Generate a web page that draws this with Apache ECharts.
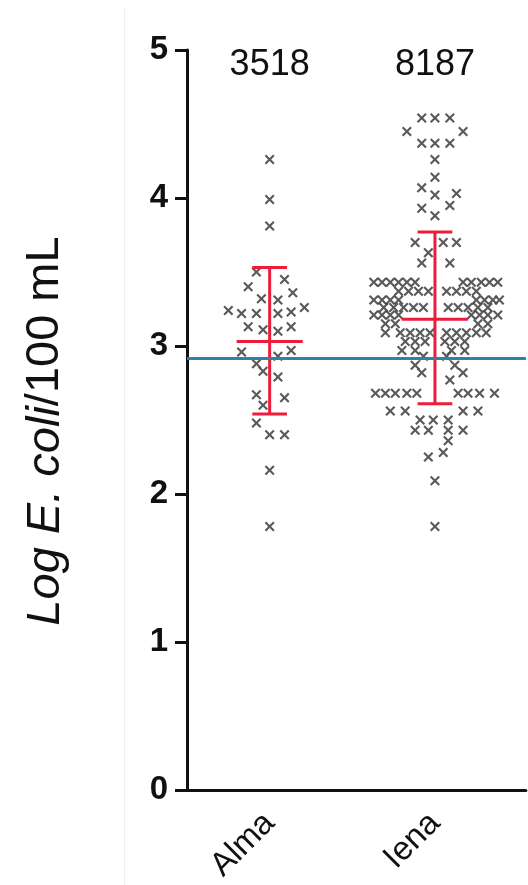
<!DOCTYPE html>
<html><head><meta charset="utf-8">
<script src="https://cdn.jsdelivr.net/npm/echarts@6/dist/echarts.min.js"></script>
<style>html,body{margin:0;padding:0;background:#fff}#c{width:528px;height:885px}</style>
</head><body><div id="c"></div>
<script>
// ---- data ----
const categories = ['Alma', 'Iena'];
const counts = [3518, 8187];
const yTicks = [0, 1, 2, 3, 4, 5];
const means = [3.03, 3.18];
const sdLow = [2.54, 2.61];
const sdHigh = [3.53, 3.77];
const referenceLevel = 2.92;

// rows of the swarm: [log value, [horizontal offsets in category units]]
const almaRows = [
  [4.26, [0]], [3.99, [0]], [3.81, [0]],
  [3.50, [-0.08]], [3.45, [0.09]], [3.40, [-0.13]], [3.36, [0.14]],
  [3.32, [-0.05]], [3.31, [0.05]], [3.26, [0.21]],
  [3.24, [-0.25]], [3.22, [-0.17, -0.08, 0.05]], [3.23, [0.13]],
  [3.13, [-0.13, 0.13]], [3.11, [-0.04]], [3.10, [0.05]],
  [2.96, [-0.17]], [2.93, [0.05]], [2.97, [0.13]],
  [2.88, [-0.08]], [2.83, [-0.04]], [2.79, [0.05]],
  [2.67, [-0.08]], [2.65, [0.09]], [2.60, [-0.04]],
  [2.48, [-0.08]], [2.40, [0, 0.09]], [2.16, [0]], [1.78, [0]]
];
const ienaRows = [
  [4.54, [-0.08, 0, 0.09]], [4.45, [-0.17, 0.17]], [4.37, [-0.08, 0, 0.09]],
  [4.26, [0]], [4.14, [0]], [4.07, [-0.08]], [4.02, [0]], [4.03, [0.13]],
  [3.95, [0.09]], [3.93, [-0.08]], [3.88, [0]],
  [3.70, [-0.12, 0.05, 0.13]], [3.63, [-0.04]], [3.56, [-0.08, 0.09]],
  [3.43, [-0.37, -0.32, -0.27, -0.22, -0.17, -0.12, 0.17, 0.22, 0.28, 0.33, 0.38]],
  [3.37, [-0.22, -0.16, -0.10, -0.04, 0.07, 0.13, 0.19, 0.25]],
  [3.31, [-0.37, -0.32, -0.27, -0.22, 0.25, 0.30, 0.35, 0.39]],
  [3.26, [-0.31, -0.25, -0.19, -0.13, -0.07, 0.08, 0.14, 0.20, 0.26, 0.32]],
  [3.21, [-0.37, -0.32, -0.27, -0.22, 0.22, 0.27, 0.32, 0.38]],
  [3.15, [-0.30, -0.24, 0.26, 0.32]],
  [3.09, [-0.30, -0.21, -0.15, -0.09, -0.03, 0.07, 0.13, 0.19, 0.25, 0.31]],
  [3.03, [-0.18, -0.12, -0.06, 0.06, 0.12, 0.18]],
  [2.97, [-0.20, -0.12, 0.10, 0.18]],
  [2.93, [-0.07, 0.07]],
  [2.87, [-0.12, 0.12]], [2.82, [-0.08, 0.17]], [2.77, [0.09]],
  [2.68, [-0.36, -0.30, -0.24, -0.17, -0.11, 0.14, 0.20, 0.27, 0.36]],
  [2.56, [-0.27, -0.18, 0.17, 0.26]],
  [2.50, [-0.09, -0.01, 0.08]],
  [2.43, [-0.12, -0.04, 0.08, 0.17]],
  [2.36, [0.08]], [2.28, [0.05]], [2.25, [-0.04]], [2.09, [0]], [1.78, [0]]
];

function toPoints(rows, catIndex) {
  const pts = [];
  rows.forEach(([v, offs]) => offs.forEach(o => pts.push([catIndex + 1 + o, v])));
  return pts;
}

const FONT = '"Liberation Sans", Arial, Helvetica, sans-serif';
const crossPath = 'path://M0,3L3,0L10,7L17,0L20,3L13,10L20,17L17,20L10,13L3,20L0,17L7,10Z';
const RED = '#ec1c3a';

const chart = echarts.init(document.getElementById('c'));
chart.setOption({
  backgroundColor: '#fff',
  animation: false,
  grid: { left: 187, right: 0, top: 50, bottom: 95, containLabel: false },
  xAxis: {
    type: 'value', min: 0.5, max: 2.55, interval: 0.5,
    axisLine: { show: true, onZero: false, lineStyle: { color: '#111', width: 3 } },
    axisTick: { show: false },
    splitLine: { show: false },
    axisLabel: {
      rotate: 45, margin: 28, fontFamily: FONT, fontSize: 33, color: '#111',
      showMinLabel: true, showMaxLabel: true,
      formatter: v => (Math.abs(v - Math.round(v)) < 1e-6 && categories[Math.round(v) - 1]) || ''
    }
  },
  yAxis: {
    type: 'value', min: yTicks[0], max: yTicks[yTicks.length - 1], interval: 1,
    axisLine: { show: true, lineStyle: { color: '#111', width: 3 } },
    axisTick: { show: true, inside: false, length: 12, lineStyle: { color: '#111', width: 3 } },
    splitLine: { show: false },
    axisLabel: { margin: 19, fontFamily: FONT, fontSize: 33, fontWeight: 'bold', color: '#111' },
    name: '{i|Log E. coli}{n|/100 mL}',
    nameLocation: 'middle', nameRotate: 90, nameGap: 118,
    nameTextStyle: {
      padding: [0, 22, 0, 0],
      rich: {
        i: { fontFamily: FONT, fontSize: 47, fontStyle: 'italic', color: '#111' },
        n: { fontFamily: FONT, fontSize: 47, color: '#111' }
      }
    }
  },
  series: [
    {
      type: 'scatter', name: categories[0], data: toPoints(almaRows, 0),
      symbol: crossPath, symbolSize: 10, z: 2,
      itemStyle: { color: '#484848', opacity: 0.9 }
    },
    {
      type: 'scatter', name: categories[1], data: toPoints(ienaRows, 1),
      symbol: crossPath, symbolSize: 10, z: 2,
      itemStyle: { color: '#484848', opacity: 0.9 }
    },
    {
      type: 'custom', z: 5,
      data: categories.map((c, i) => [i + 1, means[i], sdLow[i], sdHigh[i]]),
      renderItem: function (params, api) {
        const x = api.value(0);
        const m = api.coord([x, api.value(1)]);
        const lo = api.coord([x, api.value(2)]);
        const hi = api.coord([x, api.value(3)]);
        const halfMean = api.size([0.2, 0])[0];
        const halfCap = api.size([0.105, 0])[0];
        const st = { stroke: RED, lineWidth: 3 };
        return {
          type: 'group',
          children: [
            { type: 'line', shape: { x1: hi[0], y1: hi[1], x2: lo[0], y2: lo[1] }, style: st },
            { type: 'line', shape: { x1: hi[0] - halfCap, y1: hi[1], x2: hi[0] + halfCap, y2: hi[1] }, style: st },
            { type: 'line', shape: { x1: lo[0] - halfCap, y1: lo[1], x2: lo[0] + halfCap, y2: lo[1] }, style: st },
            { type: 'line', shape: { x1: m[0] - halfMean, y1: m[1], x2: m[0] + halfMean, y2: m[1] }, style: st }
          ]
        };
      }
    },
    {
      type: 'scatter', z: 6, silent: true,
      data: categories.map((c, i) => [i + 1, 4.9]),
      symbolSize: 0,
      itemStyle: { color: '#111', opacity: 1 },
      label: {
        show: true, position: 'inside', fontFamily: FONT, fontSize: 36,
        color: '#111', textBorderWidth: 0, opacity: 1,
        formatter: p => String(counts[p.dataIndex])
      },
      markLine: {
        silent: true, symbol: 'none', z: 10,
        label: { show: false },
        lineStyle: { color: '#2e84a0', width: 3, type: 'solid', opacity: 1 },
        data: [{ yAxis: referenceLevel }]
      }
    }
  ],
  graphic: [{
    type: 'line', silent: true, z: -1,
    shape: { x1: 124.5, y1: 8, x2: 124.5, y2: 885 },
    style: { stroke: '#efefef', lineWidth: 1 }
  }]
});
</script></body></html>
